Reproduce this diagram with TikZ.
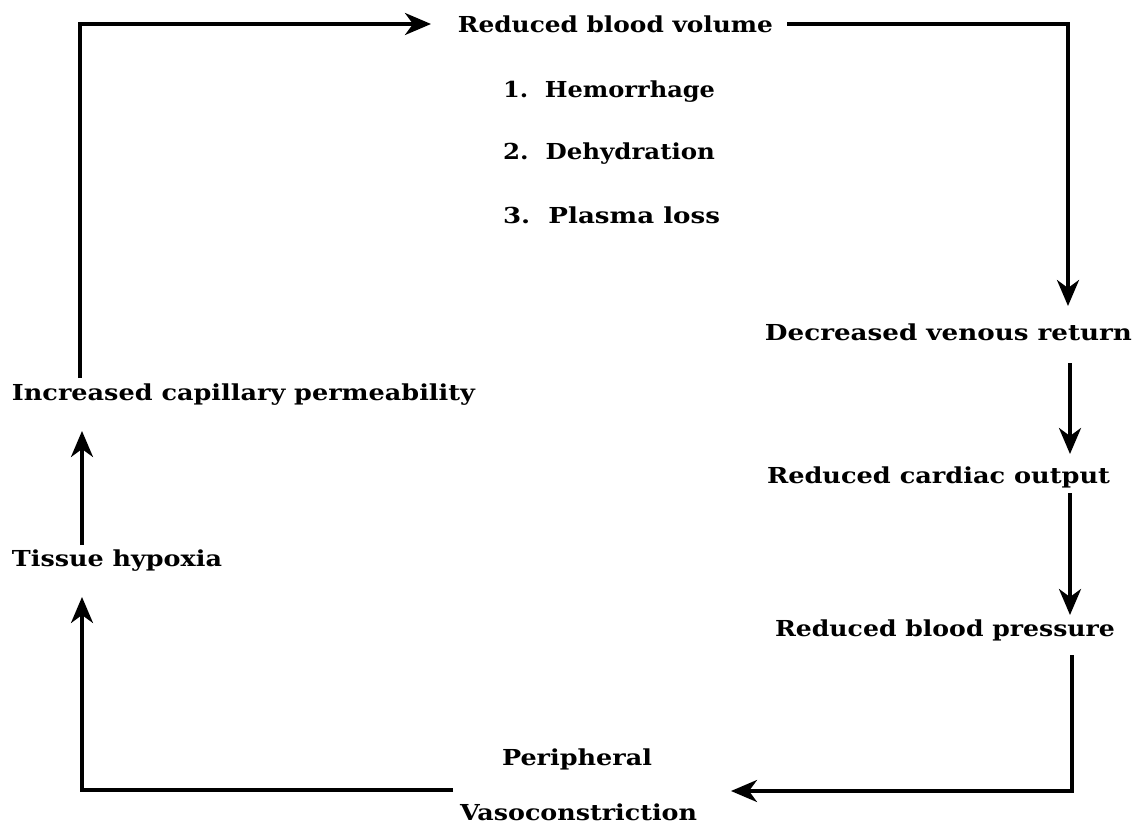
\documentclass[tikz,border=0pt]{standalone}
\usepackage{fontspec}
\setmainfont{DejaVu Serif}
\usetikzlibrary{arrows.meta}
\newcommand{\fitw}[2]{\resizebox{#1}{\height}{#2}}
\tikzset{
  lbl/.style={anchor=base, inner sep=0pt, font=\bfseries\fontsize{22}{26}\selectfont},
  flow/.style={line width=3.5pt, line join=miter, line cap=butt},
  arr/.style={flow, -{Stealth[length=26pt,width=22pt,inset=8pt]}},
}
\begin{document}
\begin{tikzpicture}[x=1pt,y=-1pt]
\useasboundingbox (0,0) rectangle (1135,827);
% texts (positions: centre x, baseline y)
\node[lbl] (rbv)  at (615.5,32)  {\fitw{315pt}{Reduced blood volume}};
\node[lbl] (h1)   at (609,97)    {\fitw{212pt}{1.\ \ Hemorrhage}};
\node[lbl] (h2)   at (609,159)   {\fitw{212pt}{2.\ \ Dehydration}};
\node[lbl] (h3)   at (611.5,223) {\fitw{217pt}{3.\ \ Plasma loss}};
\node[lbl] (dvr)  at (948.5,340) {\fitw{367pt}{Decreased venous return}};
\node[lbl] (rco)  at (938.5,483) {\fitw{343pt}{Reduced cardiac output}};
\node[lbl] (rbp)  at (945,636)   {\fitw{340pt}{Reduced blood pressure}};
\node[lbl] (per)  at (577,765)   {\fitw{150pt}{Peripheral}};
\node[lbl] (vaso) at (578.5,820) {\fitw{237pt}{Vasoconstriction}};
\node[lbl] (th)   at (117,566)   {\fitw{210pt}{Tissue hypoxia}};
\node[lbl] (icp)  at (243.5,400) {\fitw{463pt}{Increased capillary permeability}};
% connector end points
\coordinate (icpTop) at (80,378);
\coordinate (rbvIn)  at (431,24);
\coordinate (rbvOut) at (787,24);
\coordinate (dvrIn)  at (1068,306);
\coordinate (dvrOut) at (1070,363);
\coordinate (rcoIn)  at (1070,454);
\coordinate (rcoOut) at (1070,493);
\coordinate (rbpIn)  at (1070,615);
\coordinate (rbpOut) at (1072,655);
\coordinate (vasoIn) at (731,791);
\coordinate (vasoOut) at (453,790);
\coordinate (thIn)   at (82,597);
\coordinate (thOut)  at (82,545);
\coordinate (icpIn)  at (82,431);
% connectors
\draw[arr] (icpTop) |- (rbvIn);
\draw[arr] (rbvOut) -| (dvrIn);
\draw[arr] (dvrOut) -- (rcoIn);
\draw[arr] (rcoOut) -- (rbpIn);
\draw[arr] (rbpOut) |- (vasoIn);
\draw[arr] (vasoOut) -| (thIn);
\draw[arr] (thOut) -- (icpIn);
\end{tikzpicture}
\end{document}
